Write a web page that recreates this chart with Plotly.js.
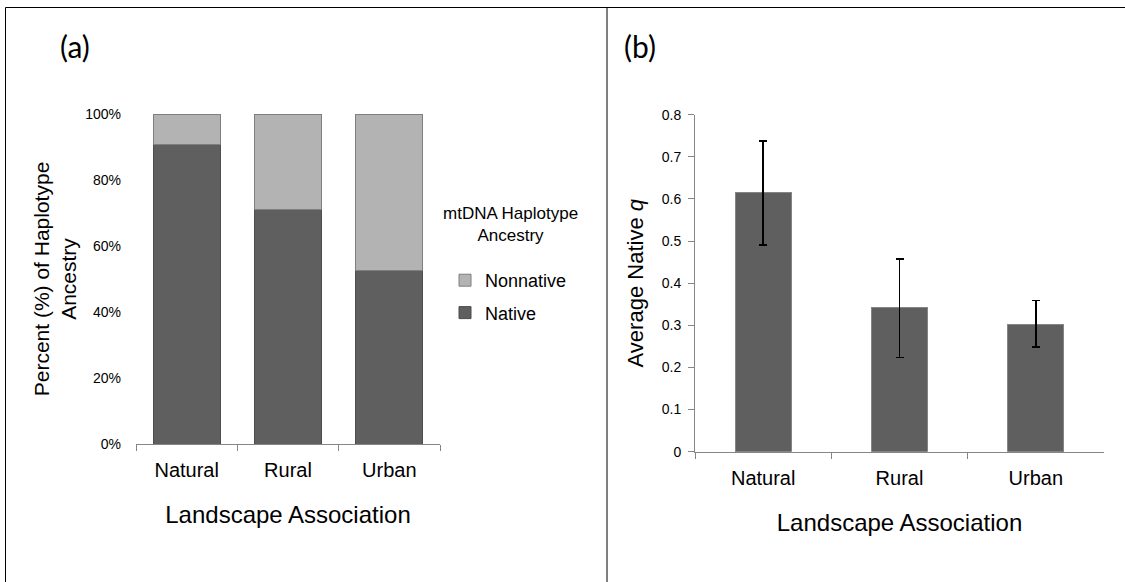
<!DOCTYPE html>
<html>
<head>
<meta charset="utf-8">
<script src="https://cdn.plot.ly/plotly-3.0.1.min.js"></script>
<style>html,body{margin:0;padding:0;background:#fff;}#chart{width:1125px;height:582px;}</style>
</head>
<body>
<div id="chart"></div>
<script>
// ---- data ----
const categories = ["Natural", "Rural", "Urban"];
const nativePct = [90.9, 71.0, 52.6];
const nonnativePct = [9.1, 29.0, 47.4];
const avgNativeQ = [0.616, 0.343, 0.303];
const qErrPlus = [0.122, 0.114, 0.056];
const qErrMinus = [0.125, 0.119, 0.055];
const pctTicks = [0, 20, 40, 60, 80, 100];
const pctTickLabels = ["0%", "20%", "40%", "60%", "80%", "100%"];

const W = 1125, H = 582;
const px = v => v / W;
const py = v => (H - v) / H;

const font = "Liberation Sans, Arial, sans-serif";

const data = [
  {
    type: "bar", name: "Native", x: categories, y: nativePct,
    xaxis: "x", yaxis: "y", width: 0.66,
    legendgroup: "native", legendrank: 2,
    marker: { color: "#5f5f5f", line: { color: "#4d4d4d", width: 1 } },
    hoverinfo: "x+y+name"
  },
  {
    type: "bar", name: "Nonnative", x: categories, y: nonnativePct,
    xaxis: "x", yaxis: "y", width: 0.66,
    legendgroup: "nonnative", legendrank: 1,
    marker: { color: "#b3b3b3", line: { color: "#7f7f7f", width: 1 } },
    hoverinfo: "x+y+name"
  },
  {
    type: "bar", name: "Average Native q", x: categories, y: avgNativeQ,
    xaxis: "x2", yaxis: "y2", width: 0.41, showlegend: false,
    marker: { color: "#5f5f5f", line: { color: "#858585", width: 1 } },
    error_y: { type: "data", symmetric: false, array: qErrPlus, arrayminus: qErrMinus,
               color: "#000", thickness: 1.5, width: 4 }
  }
];

const layout = {
  width: W, height: H,
  margin: { l: 0, r: 0, t: 0, b: 0 },
  paper_bgcolor: "#fff", plot_bgcolor: "#fff",
  barmode: "stack",
  font: { family: font, color: "#000", size: 14 },
  showlegend: true,
  legend: {
    x: px(445), y: py(262), xanchor: "left", yanchor: "top",
    traceorder: "grouped", tracegroupgap: 6,
    font: { family: font, size: 18, color: "#000" },
    bgcolor: "rgba(0,0,0,0)"
  },
  xaxis: {
    domain: [px(136), px(440)], anchor: "y", type: "category",
    range: [-0.5, 2.5], showline: true, linecolor: "#868686", linewidth: 1,
    ticks: "outside", tickson: "boundaries", ticklen: 6, tickcolor: "#868686",
    showgrid: false, zeroline: false, ticklabelstandoff: 8,
    tickfont: { family: font, size: 20, color: "#000" },
    title: { text: "Landscape Association", standoff: 26,
             font: { family: font, size: 24, color: "#000" } }
  },
  yaxis: {
    domain: [py(444), py(114)], anchor: "x",
    range: [0, 100], tickvals: pctTicks, ticktext: pctTickLabels,
    showline: false, ticks: "", showgrid: false, zeroline: false,
    ticklabelstandoff: 14,
    tickfont: { family: font, size: 14, color: "#000" },
    title: { text: "Percent (%) of Haplotype<br>Ancestry", standoff: 2,
             font: { family: font, size: 21, color: "#000" } }
  },
  xaxis2: {
    domain: [px(695), px(1104)], anchor: "y2", type: "category",
    range: [-0.5, 2.5], showline: true, linecolor: "#868686", linewidth: 1,
    ticks: "outside", tickson: "boundaries", ticklen: 6, tickcolor: "#868686",
    showgrid: false, zeroline: false, ticklabelstandoff: 8,
    tickfont: { family: font, size: 20, color: "#000" },
    title: { text: "Landscape Association", standoff: 26,
             font: { family: font, size: 24, color: "#000" } }
  },
  yaxis2: {
    domain: [py(451.7), py(114.7)], anchor: "x2",
    range: [0, 0.8], dtick: 0.1, tick0: 0,
    showline: true, linecolor: "#868686", linewidth: 1,
    ticks: "outside", ticklen: 6, tickcolor: "#868686",
    showgrid: false, zeroline: false, ticklabelstandoff: 4,
    tickfont: { family: font, size: 14, color: "#000" },
    title: { text: "Average Native <i>q</i>", standoff: 12,
             font: { family: font, size: 22, color: "#000" } }
  },
  annotations: [
    { text: "(a)", xref: "paper", yref: "paper", x: px(75), y: py(46),
      xanchor: "center", yanchor: "middle",
      showarrow: false, font: { family: "Lato, Carlito, sans-serif", size: 30, color: "#000" } },
    { text: "(b)", xref: "paper", yref: "paper", x: px(640), y: py(46),
      xanchor: "center", yanchor: "middle",
      showarrow: false, font: { family: "Lato, Carlito, sans-serif", size: 30, color: "#000" } },
    { text: "mtDNA Haplotype<br>Ancestry", xref: "paper", yref: "paper",
      x: px(510), y: py(225), xanchor: "center", yanchor: "middle", align: "center",
      showarrow: false, font: { family: font, size: 17, color: "#000" } }
  ],
  shapes: [
    { type: "line", xref: "paper", yref: "paper", x0: px(5.5), x1: 1, y0: py(7.5), y1: py(7.5),
      line: { color: "#000", width: 1 } },
    { type: "line", xref: "paper", yref: "paper", x0: px(5.5), x1: px(5.5), y0: py(7.5), y1: 0,
      line: { color: "#000", width: 1 } },
    { type: "line", xref: "paper", yref: "paper", x0: px(607), x1: px(607), y0: py(7.5), y1: 0,
      line: { color: "#000", width: 1 } }
  ]
};

Plotly.newPlot("chart", data, layout, { displayModeBar: false, staticPlot: true });
</script>
</body>
</html>
